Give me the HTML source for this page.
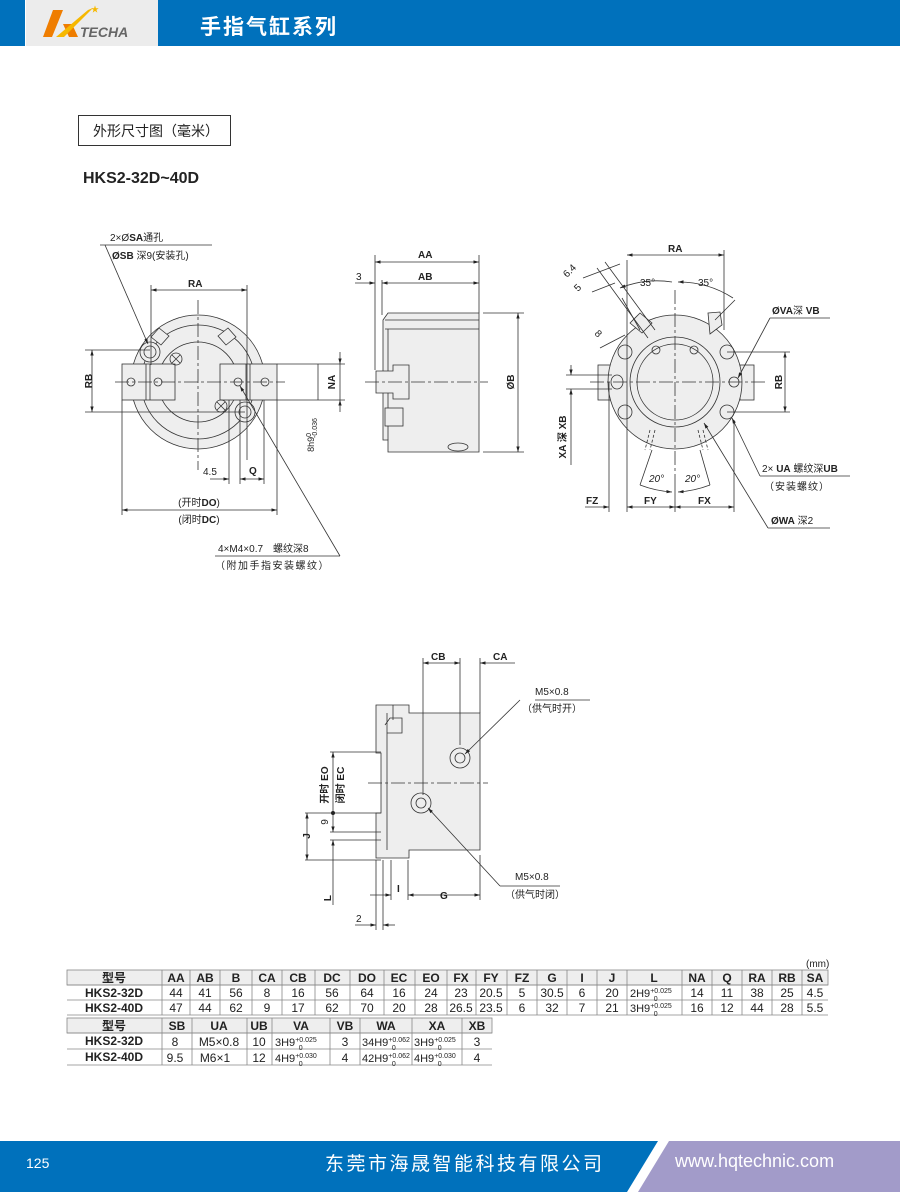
<!DOCTYPE html>
<html><head><meta charset="utf-8"><style>
html,body{margin:0;padding:0;background:#fff;}
svg{display:block;}
text{font-family:"Liberation Sans","Noto Sans CJK SC",sans-serif;fill:#222;}
.b{font-weight:bold;}
.n{font-family:"Liberation Sans Narrow","Liberation Sans","Noto Sans CJK SC",sans-serif;}
</style></head><body>
<svg width="900" height="1196" viewBox="0 0 900 1196" xmlns="http://www.w3.org/2000/svg">
<defs>
<marker id="a" viewBox="0 0 10 10" refX="10" refY="5" markerWidth="7" markerHeight="7" orient="auto-start-reverse"><path d="M0,2 L10,5 L0,8 z" fill="#222"/></marker>
</defs>
<!-- header -->
<rect x="0" y="0" width="25" height="46" fill="#0071bc"/>
<rect x="26" y="0" width="132" height="46" fill="#ececec"/>
<rect x="158" y="0" width="742" height="46" fill="#0071bc"/>
<polygon points="53,10 63,10 52,37 43,37" fill="#ef7d00"/>
<polygon points="63,24 72,24 78,37 69,37" fill="#ef7d00"/>
<polygon points="88,10 93,8 64,37 56,37" fill="#f6b800"/>
<text x="91" y="12" font-size="8" style="fill:#f6b800">★</text>
<text x="80" y="37" font-size="14" font-weight="bold" font-style="italic" style="fill:#666">TECHA</text>
<text x="200" y="34" font-size="21" font-weight="bold" style="fill:#fff;letter-spacing:2px">手指气缸系列</text>
<!-- title -->
<rect x="78.5" y="115.5" width="152" height="30" fill="none" stroke="#333"/>
<text x="93" y="136" font-size="14">外形尺寸图（毫米）</text>
<text x="83" y="183" font-size="16" class="b">HKS2-32D~40D</text>

<g stroke="#333" stroke-width="0.8" fill="none">
<!-- LEFT VIEW -->
<circle cx="198" cy="382" r="67" fill="#eeeeee"/>
<circle cx="198" cy="382" r="57"/>
<circle cx="198" cy="382" r="40"/>
<rect x="122" y="364" width="53" height="36" fill="#eeeeee"/>
<rect x="220" y="364" width="57" height="36" fill="#eeeeee"/>
<line x1="146" y1="364" x2="146" y2="400"/><line x1="150" y1="364" x2="150" y2="400"/>
<line x1="246" y1="364" x2="246" y2="400"/><line x1="250" y1="364" x2="250" y2="400"/>
<circle cx="131" cy="382" r="4"/><circle cx="158" cy="382" r="4"/><circle cx="238" cy="382" r="4"/><circle cx="265" cy="382" r="4"/>
<circle cx="176" cy="359" r="6"/><path d="M172,355 l8,8 M180,355 l-8,8"/>
<circle cx="221" cy="406" r="6"/><path d="M217,402 l8,8 M225,402 l-8,8"/>
<circle cx="150" cy="352" r="10" fill="#eeeeee"/><circle cx="150" cy="352" r="6"/>
<circle cx="245" cy="412" r="10" fill="#eeeeee"/><circle cx="245" cy="412" r="6"/>
<path d="M151,337 l8,-9 l10,8 l-8,9 z" fill="#eeeeee"/><path d="M228,328 l8,9 l-10,8 l-8,-9 z" fill="#eeeeee"/>
<path d="M198,300 V470 M115,382 H285" stroke-dasharray="14 3 3 3"/>
<!-- dims left -->
<path d="M151,285 V365 M247,285 V460"/>
<line x1="151" y1="290" x2="247" y2="290" marker-start="url(#a)" marker-end="url(#a)"/>
<path d="M85,350 H150 M85,412 H245"/>
<line x1="92" y1="350" x2="92" y2="412" marker-start="url(#a)" marker-end="url(#a)"/>
<path d="M277,364 H345 M277,400 H345"/>
<line x1="340" y1="352" x2="340" y2="364" marker-end="url(#a)"/><line x1="340" y1="412" x2="340" y2="400" marker-end="url(#a)"/><line x1="340" y1="364" x2="340" y2="400"/>
<line x1="318" y1="364" x2="318" y2="400"/>
<path d="M229,400 V484 M240,400 V484 M264,400 V484"/>
<line x1="210" y1="479" x2="229" y2="479" marker-end="url(#a)"/><line x1="240" y1="479" x2="264" y2="479" marker-start="url(#a)" marker-end="url(#a)"/>
<path d="M122,400 V515 M277,400 V515"/>
<line x1="122" y1="510" x2="277" y2="510" marker-start="url(#a)" marker-end="url(#a)"/>
<path d="M100,245 H212"/><line x1="105" y1="245" x2="148" y2="344" marker-end="url(#a)"/>
<path d="M215,556 H340"/><line x1="340" y1="556" x2="240" y2="386" marker-end="url(#a)"/>

<!-- MIDDLE VIEW -->
<path d="M388,313 H479 V452 H388 V440 H383 V320 L388,313 z" fill="#eeeeee"/>
<path d="M385,320 H479 M385,329 H479 M388,329 V440"/>
<path d="M376,371 H393 V365 H409 V399 H393 V393 H376 z" fill="#eeeeee"/>
<rect x="385" y="408" width="18" height="18" fill="#eeeeee"/>
<ellipse cx="458" cy="447" rx="10" ry="4"/>
<path d="M365,382 H488" stroke-dasharray="14 3 3 3"/>
<path d="M375,255 V370 M382,280 V315 M479,255 V313"/>
<line x1="375" y1="262" x2="479" y2="262" marker-start="url(#a)" marker-end="url(#a)"/>
<line x1="382" y1="283" x2="479" y2="283" marker-start="url(#a)" marker-end="url(#a)"/>
<line x1="355" y1="283" x2="375" y2="283" marker-end="url(#a)"/>
<path d="M483,313 H524 M483,452 H524"/>
<line x1="518" y1="313" x2="518" y2="452" marker-start="url(#a)" marker-end="url(#a)"/>

<!-- RIGHT VIEW -->
<rect x="598" y="365" width="14" height="35" fill="#eeeeee"/>
<rect x="740" y="365" width="14" height="35" fill="#eeeeee"/>
<circle cx="675" cy="382" r="67" fill="#eeeeee"/>
<circle cx="675" cy="382" r="45"/>
<circle cx="675" cy="382" r="38"/>
<circle cx="625" cy="352" r="7"/><circle cx="727" cy="352" r="7"/><circle cx="625" cy="412" r="7"/><circle cx="727" cy="412" r="7"/>
<circle cx="656" cy="350" r="4"/><circle cx="694" cy="350" r="4"/>
<ellipse cx="617" cy="382" rx="6" ry="7"/><circle cx="734" cy="382" r="5"/>
<path d="M630,323 l10,-10 l12,10 l-10,10 z" fill="#eeeeee"/><path d="M708,313 l12,-1 l2,13 l-12,9 z" fill="#eeeeee"/>
<path d="M675,290 V480 M590,382 H765" stroke-dasharray="14 3 3 3"/>
<path d="M609,382 V512 M627,260 V512 M675,480 V512 M734,420 V512 M724,250 V330"/>
<line x1="627" y1="255" x2="724" y2="255" marker-start="url(#a)" marker-end="url(#a)"/>
<line x1="585" y1="507" x2="609" y2="507" marker-end="url(#a)"/>
<line x1="627" y1="507" x2="675" y2="507" marker-start="url(#a)" marker-end="url(#a)"/>
<line x1="675" y1="507" x2="734" y2="507" marker-start="url(#a)" marker-end="url(#a)"/>
<path d="M727,352 H790 M727,412 H790"/>
<line x1="785" y1="352" x2="785" y2="412" marker-start="url(#a)" marker-end="url(#a)"/>
<path d="M566,375 H612 M566,389 H612"/>
<line x1="571" y1="365" x2="571" y2="375" marker-end="url(#a)"/><line x1="571" y1="400" x2="571" y2="389" marker-end="url(#a)"/><line x1="571" y1="400" x2="571" y2="465"/>
<path d="M620,288 A100,100 0 0 1 672,282" marker-start="url(#a)"/><path d="M678,282 A100,100 0 0 1 733,298" marker-start="url(#a)"/>
<path d="M622,298 L640,330 M735,300 L715,320"/>
<path d="M597,268 L648,338 M605,262 L655,330 M583,278 L620,264 M592,292 L615,283"/>
<path d="M600,348 L625,335"/>
<path d="M640,485 A110,110 0 0 0 672,492" marker-end="url(#a)"/><path d="M710,485 A110,110 0 0 1 678,492" marker-end="url(#a)"/>
<path d="M640,485 L652,450 M710,485 L700,450" />
<path d="M650,430 l-5,20 M655,430 l-5,20 M698,430 l5,20 M703,430 l5,20" stroke-dasharray="3 2"/>
<path d="M770,318 H830"/><line x1="770" y1="318" x2="738" y2="378" marker-end="url(#a)"/>
<path d="M760,476 H850"/><line x1="760" y1="476" x2="732" y2="418" marker-end="url(#a)"/>
<path d="M768,528 H830"/><line x1="768" y1="528" x2="704" y2="423" marker-end="url(#a)"/>

<!-- BOTTOM VIEW -->
<path d="M376,705 H409 V713 H480 V850 H409 V858 H376 V813 H381 V753 H376 z" fill="#eeeeee"/>
<path d="M387,713 V850 M393,705 V720 M385,725 L390,718 H402 V733 H387"/>
<circle cx="460" cy="758" r="10"/><circle cx="460" cy="758" r="5"/>
<circle cx="421" cy="803" r="10"/><circle cx="421" cy="803" r="5"/>
<path d="M368,783 H488" stroke-dasharray="14 3 3 3"/>
<path d="M423,658 V795 M460,658 V745 M480,658 V713"/>
<line x1="423" y1="663" x2="460" y2="663" marker-start="url(#a)" marker-end="url(#a)"/>
<line x1="515" y1="663" x2="480" y2="663" marker-end="url(#a)"/>
<path d="M535,700 H590"/><line x1="520" y1="700" x2="465" y2="754" marker-end="url(#a)"/>
<path d="M500,886 H560"/><line x1="500" y1="886" x2="428" y2="808" marker-end="url(#a)"/>
<path d="M330,752 H381 M305,813 H381 M330,832 H381 M330,840 H381 M305,860 H381"/>
<line x1="333" y1="813" x2="333" y2="752" marker-end="url(#a)"/>
<line x1="333" y1="813" x2="333" y2="832" marker-end="url(#a)"/>
<line x1="333" y1="840" x2="333" y2="905" marker-start="url(#a)"/>
<line x1="307" y1="813" x2="307" y2="860" marker-start="url(#a)" marker-end="url(#a)"/>
<path d="M376,860 V930 M383,860 V930 M391,860 V900 M408,860 V900 M480,855 V900"/>
<line x1="370" y1="895" x2="391" y2="895" marker-end="url(#a)"/>
<line x1="408" y1="895" x2="480" y2="895" marker-start="url(#a)" marker-end="url(#a)"/>
<line x1="355" y1="925" x2="376" y2="925" marker-end="url(#a)"/><line x1="395" y1="925" x2="383" y2="925" marker-end="url(#a)"/>
</g>
<circle cx="333" cy="813" r="2" fill="#222"/>

<!-- labels -->
<g font-size="10">
<text x="110" y="241"><tspan>2×Ø</tspan><tspan class="b">SA</tspan>通孔</text>
<text x="112" y="259"><tspan class="b">ØSB</tspan> 深9(安装孔)</text>
<text x="188" y="287" class="b">RA</text>
<text x="92" y="381" class="b" transform="rotate(-90 92 381)" text-anchor="middle">RB</text>
<text x="335" y="382" class="b" transform="rotate(-90 335 382)" text-anchor="middle">NA</text>
<text x="314" y="435" transform="rotate(-90 314 435)" text-anchor="middle" font-size="9">8h9<tspan dy="-3" font-size="7">0</tspan><tspan dx="-5" dy="6" font-size="7">-0.036</tspan></text>
<text x="203" y="475">4.5</text>
<text x="249" y="474" class="b">Q</text>
<text x="199" y="506" text-anchor="middle">(开时<tspan class="b">DO</tspan>)</text>
<text x="199" y="523" text-anchor="middle">(闭时<tspan class="b">DC</tspan>)</text>
<text x="218" y="552">4×M4×0.7　螺纹深8</text>
<text x="215" y="569" style="letter-spacing:1.5px">（附加手指安装螺纹）</text>
<text x="418" y="258" class="b">AA</text>
<text x="418" y="280" class="b">AB</text>
<text x="356" y="280">3</text>
<text x="514" y="382" class="b" transform="rotate(-90 514 382)" text-anchor="middle">ØB</text>
<text x="668" y="252" class="b">RA</text>
<text x="567" y="278" transform="rotate(-45 567 278)">6.4</text>
<text x="578" y="292" transform="rotate(-45 578 292)">5</text>
<text x="594" y="334" transform="rotate(45 594 334)">8</text>
<text x="640" y="286">35°</text>
<text x="698" y="286">35°</text>
<text x="772" y="314"><tspan class="b">ØVA</tspan>深 <tspan class="b">VB</tspan></text>
<text x="782" y="382" class="b" transform="rotate(-90 782 382)" text-anchor="middle">RB</text>
<text x="566" y="437" class="b" transform="rotate(-90 566 437)" text-anchor="middle">XA 深 XB</text>
<text x="762" y="472">2× <tspan class="b">UA</tspan> 螺纹深<tspan class="b">UB</tspan></text>
<text x="764" y="490" style="letter-spacing:1px">（安装螺纹）</text>
<text x="771" y="524"><tspan class="b">ØWA</tspan> 深2</text>
<text x="649" y="482" font-style="italic">20°</text>
<text x="685" y="482" font-style="italic">20°</text>
<text x="586" y="504" class="b">FZ</text>
<text x="644" y="504" class="b">FY</text>
<text x="698" y="504" class="b">FX</text>
<text x="431" y="660" class="b">CB</text>
<text x="493" y="660" class="b">CA</text>
<text x="535" y="695">M5×0.8</text>
<text x="522" y="712">（供气时开）</text>
<text x="515" y="880">M5×0.8</text>
<text x="505" y="898">（供气时闭）</text>
<text x="328" y="785" class="b" transform="rotate(-90 328 785)" text-anchor="middle">开时 EO</text>
<text x="344" y="785" class="b" transform="rotate(-90 344 785)" text-anchor="middle">闭时 EC</text>
<text x="328" y="822" transform="rotate(-90 328 822)" text-anchor="middle">9</text>
<text x="310" y="836" class="b" transform="rotate(-90 310 836)" text-anchor="middle">J</text>
<text x="331" y="898" class="b" transform="rotate(-90 331 898)" text-anchor="middle">L</text>
<text x="397" y="892" class="b">I</text>
<text x="440" y="899" class="b">G</text>
<text x="356" y="922">2</text>
</g>

<!-- TABLES -->
<text x="806" y="967" font-size="10" class="n">(mm)</text>
<g stroke="#888" stroke-width="0.8" fill="none">
<rect x="67" y="970" width="761" height="15" fill="#eeeeee"/>
<path d="M67,985 H828 M67,1000 H828 M67,1015 H828"/>
<path d="M162,970V1015 M190,970V1015 M220,970V1015 M252,970V1015 M282,970V1015 M315,970V1015 M350,970V1015 M384,970V1015 M415,970V1015 M447,970V1015 M476,970V1015 M507,970V1015 M537,970V1015 M567,970V1015 M597,970V1015 M627,970V1015 M682,970V1015 M712,970V1015 M742,970V1015 M772,970V1015 M802,970V1015"/>
<rect x="67" y="1018" width="425" height="15" fill="#eeeeee"/>
<path d="M67,1033 H492 M67,1049 H492 M67,1065 H492"/>
<path d="M162,1018V1065 M192,1018V1065 M247,1018V1065 M272,1018V1065 M330,1018V1065 M360,1018V1065 M412,1018V1065 M462,1018V1065"/>
</g>
<g font-size="12" class="n" text-anchor="middle">
<text x="114" y="982" class="b">型号</text>
<g class="b"><text x="176" y="982">AA</text><text x="205" y="982">AB</text><text x="236" y="982">B</text><text x="267" y="982">CA</text><text x="298" y="982">CB</text><text x="332" y="982">DC</text><text x="367" y="982">DO</text><text x="399" y="982">EC</text><text x="431" y="982">EO</text><text x="461" y="982">FX</text><text x="491" y="982">FY</text><text x="522" y="982">FZ</text><text x="552" y="982">G</text><text x="582" y="982">I</text><text x="612" y="982">J</text><text x="654" y="982">L</text><text x="697" y="982">NA</text><text x="727" y="982">Q</text><text x="757" y="982">RA</text><text x="787" y="982">RB</text><text x="815" y="982">SA</text></g>
<text x="114" y="997" class="b">HKS2-32D</text>
<text x="176" y="997">44</text><text x="205" y="997">41</text><text x="236" y="997">56</text><text x="267" y="997">8</text><text x="298" y="997">16</text><text x="332" y="997">56</text><text x="367" y="997">64</text><text x="399" y="997">16</text><text x="431" y="997">24</text><text x="461" y="997">23</text><text x="491" y="997">20.5</text><text x="522" y="997">5</text><text x="552" y="997">30.5</text><text x="582" y="997">6</text><text x="612" y="997">20</text><text x="697" y="997">14</text><text x="727" y="997">11</text><text x="757" y="997">38</text><text x="787" y="997">25</text><text x="815" y="997">4.5</text>
<text x="114" y="1012" class="b">HKS2-40D</text>
<text x="176" y="1012">47</text><text x="205" y="1012">44</text><text x="236" y="1012">62</text><text x="267" y="1012">9</text><text x="298" y="1012">17</text><text x="332" y="1012">62</text><text x="367" y="1012">70</text><text x="399" y="1012">20</text><text x="431" y="1012">28</text><text x="461" y="1012">26.5</text><text x="491" y="1012">23.5</text><text x="522" y="1012">6</text><text x="552" y="1012">32</text><text x="582" y="1012">7</text><text x="612" y="1012">21</text><text x="697" y="1012">16</text><text x="727" y="1012">12</text><text x="757" y="1012">44</text><text x="787" y="1012">28</text><text x="815" y="1012">5.5</text>
<text x="114" y="1030" class="b">型号</text>
<g class="b"><text x="177" y="1030">SB</text><text x="219" y="1030">UA</text><text x="259" y="1030">UB</text><text x="301" y="1030">VA</text><text x="345" y="1030">VB</text><text x="386" y="1030">WA</text><text x="437" y="1030">XA</text><text x="477" y="1030">XB</text></g>
<text x="114" y="1045" class="b">HKS2-32D</text>
<text x="175" y="1046">8</text><text x="219" y="1046">M5×0.8</text><text x="259" y="1046">10</text><text x="345" y="1046">3</text><text x="477" y="1046">3</text>
<text x="114" y="1061" class="b">HKS2-40D</text>
<text x="175" y="1062">9.5</text><text x="215" y="1062">M6×1</text><text x="259" y="1062">12</text><text x="345" y="1062">4</text><text x="477" y="1062">4</text>
</g>
<g font-size="11" class="n">
<text x="630" y="997">2H9<tspan font-size="7" dy="-4">+0.025</tspan><tspan font-size="7" dx="-18" dy="8">0</tspan></text>
<text x="630" y="1012">3H9<tspan font-size="7" dy="-4">+0.025</tspan><tspan font-size="7" dx="-18" dy="8">0</tspan></text>
<text x="275" y="1046">3H9<tspan font-size="7" dy="-4">+0.025</tspan><tspan font-size="7" dx="-18" dy="8">0</tspan></text>
<text x="275" y="1062">4H9<tspan font-size="7" dy="-4">+0.030</tspan><tspan font-size="7" dx="-18" dy="8">0</tspan></text>
<text x="362" y="1046">34H9<tspan font-size="7" dy="-4">+0.062</tspan><tspan font-size="7" dx="-18" dy="8">0</tspan></text>
<text x="362" y="1062">42H9<tspan font-size="7" dy="-4">+0.062</tspan><tspan font-size="7" dx="-18" dy="8">0</tspan></text>
<text x="414" y="1046">3H9<tspan font-size="7" dy="-4">+0.025</tspan><tspan font-size="7" dx="-18" dy="8">0</tspan></text>
<text x="414" y="1062">4H9<tspan font-size="7" dy="-4">+0.030</tspan><tspan font-size="7" dx="-18" dy="8">0</tspan></text>
</g>

<!-- footer -->
<polygon points="0,1141 658,1141 627,1192 0,1192" fill="#0071bc"/>
<polygon points="669,1141 900,1141 900,1192 638,1192" fill="#a29bc9"/>
<text x="26" y="1168" font-size="14" style="fill:#fff">125</text>
<text x="325" y="1170" font-size="19" style="fill:#fff;letter-spacing:2.5px">东莞市海晟智能科技有限公司</text>
<text x="675" y="1167" font-size="18" style="fill:#fff">www.hqtechnic.com</text>
</svg>
</body></html>
